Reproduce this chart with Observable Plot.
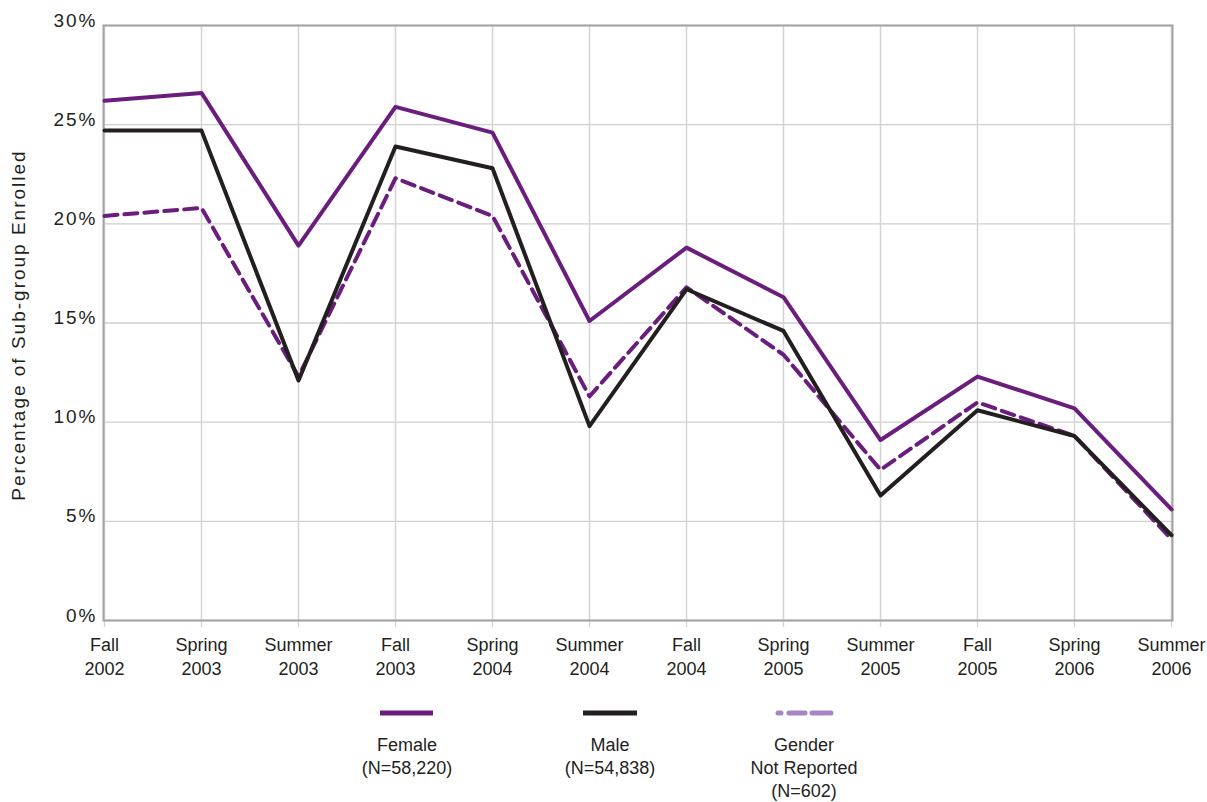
<!DOCTYPE html>
<html>
<head>
<meta charset="utf-8">
<script src="https://cdn.jsdelivr.net/npm/d3@7"></script>
<script src="https://cdn.jsdelivr.net/npm/@observablehq/plot@0.6"></script>
<style>
  html, body { margin: 0; padding: 0; background: #fff; }
  body { width: 1207px; height: 802px; overflow: hidden; font-family: "Liberation Sans", Arial, sans-serif; color: #231f20; }
  #wrap { position: relative; width: 1207px; }
  #legend { display: block; }
</style>
</head>
<body>
<div id="wrap"></div>
<script>
const terms = ["Fall 2002","Spring 2003","Summer 2003","Fall 2003","Spring 2004","Summer 2004","Fall 2004","Spring 2005","Summer 2005","Fall 2005","Spring 2006","Summer 2006"];
const female = [26.2, 26.6, 18.9, 25.9, 24.6, 15.1, 18.8, 16.3, 9.1, 12.3, 10.7, 5.6];
const male = [24.7, 24.7, 12.1, 23.9, 22.8, 9.8, 16.7, 14.6, 6.3, 10.6, 9.3, 4.3];
const notReported = [20.4, 20.8, 12.3, 22.3, 20.4, 11.3, 16.8, 13.4, 7.6, 11.0, 9.3, 4.1];
const yTicks = [0, 5, 10, 15, 20, 25, 30];
const seriesNames = ["Female", "Male", "Gender Not Reported"];
const legendLabels = [["Female", "(N=58,220)"], ["Male", "(N=54,838)"], ["Gender", "Not Reported", "(N=602)"]];

const PURPLE = "#6b1d7d";
const BLACK = "#231f20";
const LIGHTPURPLE = "#a784c4";

const toRows = (vals, name) => vals.map((v, i) => ({term: terms[i], value: v, series: name}));
const fRows = toRows(female, seriesNames[0]);
const mRows = toRows(male, seriesNames[1]);
const nRows = toRows(notReported, seriesNames[2]);

const chart = Plot.plot({
  width: 1207,
  height: 690,
  marginLeft: 103,
  marginRight: 35,
  marginTop: 25,
  marginBottom: 70,
  style: {fontFamily: "'Liberation Sans', Arial, sans-serif", fontSize: "18px", color: "#231f20", background: "#fff"},
  x: {type: "point", domain: terms, padding: 0},
  y: {domain: [0, 30]},
  marks: [
    Plot.gridY(yTicks, {stroke: "#cfcfcf", strokeOpacity: 1, strokeWidth: 1.3}),
    Plot.gridX(terms, {stroke: "#d4d4d4", strokeOpacity: 1, strokeWidth: 1.3}),
    Plot.tickX(terms, {x: d => d, y1: 0, stroke: "#d4d4d4", strokeWidth: 1.3, insetBottom: -7}),
    Plot.frame({stroke: "#a3a3a3", strokeWidth: 2}),
    Plot.axisY(yTicks, {tickSize: 0, tickPadding: 6, dy: -5, tickFormat: d => d + "%", fontSize: 19, fill: "#231f20", label: null}),
    Plot.text(["Percentage of Sub-group Enrolled"], {frameAnchor: "left", textAnchor: "middle", rotate: -90, dx: -85, dy: 2, fontSize: 19, fill: "#231f20"}),
    Plot.axisX(terms, {tickSize: 0, tickPadding: 14, tickFormat: d => d.replace(" ", "\n"), lineHeight: 1.33, fontSize: 18, fill: "#231f20", label: null}),
    Plot.lineY(nRows, {x: "term", y: "value", stroke: PURPLE, strokeWidth: 4, strokeDasharray: "13,7"}),
    Plot.lineY(mRows, {x: "term", y: "value", stroke: BLACK, strokeWidth: 4}),
    Plot.lineY(fRows, {x: "term", y: "value", stroke: PURPLE, strokeWidth: 4})
  ]
});
// wider tracking like the reference
d3.select(chart).selectAll('g[aria-label="y-axis tick label"] text').style("letter-spacing", "2px");
d3.select(chart).selectAll('g[aria-label="text"] text').style("letter-spacing", "2px");
document.getElementById("wrap").appendChild(chart);

// Legend below the chart
const ns = "http://www.w3.org/2000/svg";
const leg = document.createElementNS(ns, "svg");
leg.setAttribute("id", "legend");
leg.setAttribute("width", 1207);
leg.setAttribute("height", 112);
const top0 = 690;
const items = [
  {cx: 407, x1: 380, x2: 433, color: PURPLE, dash: null},
  {cx: 610, x1: 583, x2: 637, color: BLACK, dash: null},
  {cx: 804, x1: 778, x2: 831, color: LIGHTPURPLE, dash: "3,8,16,7,20,0"}
];
items.forEach((it, i) => {
  const ln = document.createElementNS(ns, "line");
  ln.setAttribute("x1", it.x1); ln.setAttribute("x2", it.x2);
  ln.setAttribute("y1", 713 - top0); ln.setAttribute("y2", 713 - top0);
  ln.setAttribute("stroke", it.color); ln.setAttribute("stroke-width", 5);
  if (it.dash) { ln.setAttribute("stroke-dasharray", it.dash); ln.setAttribute("stroke-linecap", "round"); }
  leg.appendChild(ln);
  legendLabels[i].forEach((t, j) => {
    const tx = document.createElementNS(ns, "text");
    tx.setAttribute("x", it.cx);
    tx.setAttribute("y", 751 - top0 + j * 23);
    tx.setAttribute("text-anchor", "middle");
    tx.setAttribute("font-size", 18);
    tx.setAttribute("font-family", "'Liberation Sans', Arial, sans-serif");
    tx.setAttribute("fill", "#231f20");
    tx.textContent = t;
    leg.appendChild(tx);
  });
});
document.getElementById("wrap").appendChild(leg);
</script>
</body>
</html>
